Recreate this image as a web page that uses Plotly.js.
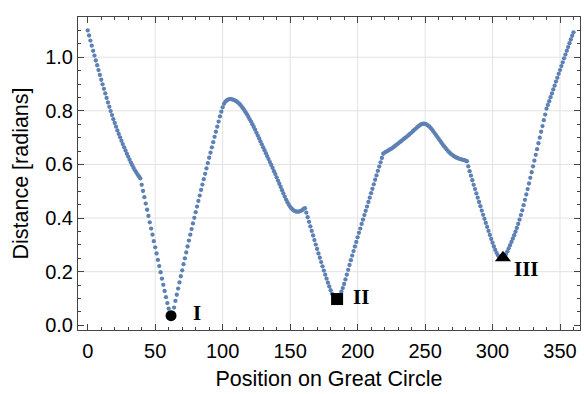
<!DOCTYPE html>
<html>
<head>
<meta charset="utf-8">
<script src="https://cdn.plot.ly/plotly-3.0.1.min.js"></script>
<style>html,body{margin:0;padding:0;background:#fff;}#chart{width:584px;height:394px;}</style>
</head>
<body>
<div id="chart"></div>
<script>
// Distance (radians) sampled every 1 degree along the great circle, 0..360
const distance = [
1.100, 1.081, 1.062, 1.043, 1.024, 1.006, 0.988, 0.970, 0.952, 0.934,
0.916, 0.899, 0.882, 0.865, 0.848, 0.831, 0.815, 0.799, 0.784, 0.769,
0.755, 0.741, 0.727, 0.714, 0.701, 0.688, 0.676, 0.664, 0.652, 0.640,
0.629, 0.618, 0.607, 0.597, 0.587, 0.578, 0.570, 0.562, 0.555, 0.548,
0.524, 0.501, 0.478, 0.454, 0.431, 0.408, 0.384, 0.361, 0.338, 0.314,
0.291, 0.268, 0.244, 0.221, 0.198, 0.174, 0.151, 0.128, 0.105, 0.083,
0.062, 0.044, 0.036, 0.046, 0.066, 0.091, 0.114, 0.137, 0.160, 0.183,
0.205, 0.228, 0.250, 0.272, 0.294, 0.316, 0.338, 0.359, 0.380, 0.401,
0.422, 0.443, 0.464, 0.484, 0.505, 0.525, 0.545, 0.565, 0.585, 0.605,
0.625, 0.644, 0.664, 0.683, 0.703, 0.722, 0.741, 0.760, 0.779, 0.797,
0.813, 0.826, 0.834, 0.839, 0.842, 0.844, 0.844, 0.843, 0.841, 0.839,
0.836, 0.832, 0.828, 0.823, 0.817, 0.810, 0.803, 0.795, 0.787, 0.778,
0.769, 0.760, 0.750, 0.740, 0.730, 0.719, 0.708, 0.697, 0.686, 0.675,
0.664, 0.653, 0.642, 0.631, 0.620, 0.609, 0.598, 0.587, 0.575, 0.564,
0.552, 0.540, 0.528, 0.516, 0.504, 0.492, 0.480, 0.469, 0.459, 0.450,
0.442, 0.436, 0.431, 0.427, 0.425, 0.424, 0.424, 0.425, 0.427, 0.430,
0.434, 0.437, 0.420, 0.403, 0.386, 0.369, 0.352, 0.335, 0.318, 0.301,
0.285, 0.268, 0.252, 0.236, 0.220, 0.204, 0.189, 0.174, 0.159, 0.145,
0.131, 0.118, 0.107, 0.099, 0.095, 0.097, 0.104, 0.114, 0.126, 0.139,
0.154, 0.171, 0.189, 0.207, 0.225, 0.243, 0.260, 0.277, 0.294, 0.311,
0.328, 0.345, 0.361, 0.378, 0.394, 0.411, 0.427, 0.443, 0.460, 0.476,
0.493, 0.509, 0.526, 0.543, 0.559, 0.576, 0.592, 0.608, 0.624, 0.640,
0.644, 0.647, 0.650, 0.653, 0.656, 0.659, 0.662, 0.666, 0.670, 0.674,
0.678, 0.682, 0.686, 0.690, 0.694, 0.698, 0.702, 0.706, 0.710, 0.715,
0.719, 0.724, 0.729, 0.733, 0.738, 0.742, 0.746, 0.749, 0.751, 0.752,
0.751, 0.749, 0.746, 0.742, 0.737, 0.731, 0.724, 0.717, 0.710, 0.703,
0.696, 0.689, 0.682, 0.675, 0.668, 0.662, 0.656, 0.650, 0.645, 0.640,
0.636, 0.632, 0.629, 0.626, 0.624, 0.622, 0.620, 0.619, 0.617, 0.616,
0.614, 0.612, 0.593, 0.575, 0.558, 0.541, 0.524, 0.508, 0.492, 0.476,
0.460, 0.444, 0.428, 0.412, 0.397, 0.382, 0.367, 0.352, 0.337, 0.322,
0.308, 0.294, 0.281, 0.270, 0.261, 0.254, 0.250, 0.249, 0.252, 0.258,
0.266, 0.276, 0.287, 0.299, 0.311, 0.323, 0.336, 0.349, 0.363, 0.378,
0.394, 0.411, 0.429, 0.448, 0.468, 0.488, 0.508, 0.529, 0.550, 0.571,
0.593, 0.614, 0.636, 0.657, 0.679, 0.700, 0.722, 0.743, 0.765, 0.786,
0.808, 0.822, 0.836, 0.851, 0.865, 0.880, 0.894, 0.909, 0.923, 0.938,
0.952, 0.967, 0.981, 0.996, 1.010, 1.024, 1.038, 1.052, 1.066, 1.080, 1.093
];
// Sampling positions: one sample per degree
const positions = distance.map((_, i) => i);

// Marked minima
const minimaLabels = ["I", "II", "III"];
const minimaX = [61.75, 184.8, 307.7];
const minimaY = [0.036, 0.098, 0.252];
const minimaSymbols = ["circle", "square", "triangle-up"];
const minimaSizes = [11, 12, 14];
// Label anchor positions (data coords)
const labelX = [80.8, 202.6, 325.4];
const labelY = [0.047, 0.107, 0.209];

// Grid lines (major ticks, excluding the zero lines)
const xGrid = [50, 100, 150, 200, 250, 300, 350];
const yGrid = [0.2, 0.4, 0.6, 0.8, 1.0];

const frameColor = "#444";
const gridColor = "#e2e2e2";
const font = "Liberation Sans, Arial, Helvetica, sans-serif";

const traces = [{
  x: positions, y: distance, type: "scatter", mode: "markers",
  marker: {color: "#5E81B5", size: 4.3, line: {width: 0}},
  hoverinfo: "skip", showlegend: false
}];
minimaLabels.forEach((lab, i) => {
  traces.push({
    x: [minimaX[i]], y: [minimaY[i]], type: "scatter", mode: "markers",
    marker: {color: "#000", size: minimaSizes[i], symbol: minimaSymbols[i], line: {width: 0}},
    showlegend: false, hoverinfo: "skip"
  });
});

const annotations = minimaLabels.map((lab, i) => ({
  x: labelX[i], y: labelY[i], xref: "x", yref: "y", text: lab, showarrow: false,
  font: {family: "Liberation Serif, Times New Roman, serif", size: 21, color: "#000", weight: "bold"}
}));

const shapes = [];
xGrid.forEach(v => shapes.push({type: "line", xref: "x", yref: "paper", x0: v, x1: v, y0: 0, y1: 1,
  line: {color: gridColor, width: 1}, layer: "below"}));
yGrid.forEach(v => shapes.push({type: "line", xref: "paper", yref: "y", x0: 0, x1: 1, y0: v, y1: v,
  line: {color: gridColor, width: 1}, layer: "below"}));

const axisCommon = {
  ticks: "inside", ticklen: 6, tickwidth: 1, tickcolor: frameColor,
  showline: true, linecolor: frameColor, linewidth: 1, mirror: "ticks",
  showgrid: false, zeroline: false,
  tickfont: {family: font, size: 20, color: "#000"}
};

const layout = {
  width: 584, height: 394,
  margin: {l: 78, r: 4, t: 17, b: 64},
  paper_bgcolor: "#fff", plot_bgcolor: "#fff",
  xaxis: Object.assign({}, axisCommon, {
    range: [-7.2, 364.8], tick0: 0, dtick: 50, ticklabelstandoff: 3,
    minor: {dtick: 10, tick0: 0, ticks: "inside", ticklen: 3, tickcolor: frameColor, showgrid: false},
    title: {text: "Position on Great Circle", font: {family: font, size: 21.5, color: "#000"}, standoff: 9}
  }),
  yaxis: Object.assign({}, axisCommon, {
    range: [-0.0175, 1.15], tick0: 0, dtick: 0.2, tickformat: ".1f",
    minor: {dtick: 0.05, tick0: 0, ticks: "inside", ticklen: 3, tickcolor: frameColor, showgrid: false},
    title: {text: "Distance [radians]", font: {family: font, size: 21.5, color: "#000"}, standoff: 10}
  }),
  shapes: shapes,
  annotations: annotations,
  showlegend: false
};

Plotly.newPlot("chart", traces, layout, {staticPlot: true, displayModeBar: false});
</script>
</body>
</html>
